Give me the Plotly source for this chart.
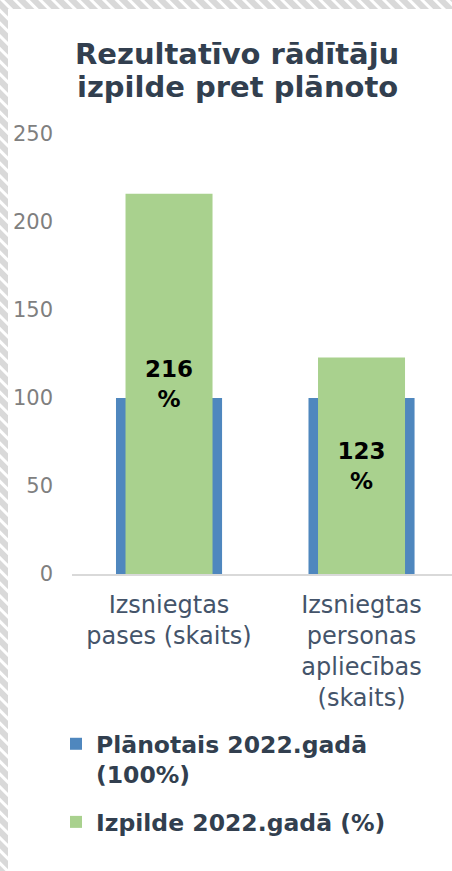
import base64
import plotly.graph_objects as go

# ---- data ----
categories = ["Izsniegtas<br>pases (skaits)", "Izsniegtas<br>personas<br>apliecības<br>(skaits)"]
planned = [100, 100]
actual = [216, 123]
series_names = ["Plānotais 2022.gadā<br>(100%)", "Izpilde 2022.gadā (%)"]
y_ticks = [0, 50, 100, 150, 200, 250]
title_lines = ["Rezultatīvo rādītāju", "izpilde pret plānoto"]

# ---- layout geometry ----
W, H = 452, 871
L, R, T, B = 72, 0, 134, 297
PW, PH = W - L - R, H - T - B

BLUE = "#4F87BE"
GREEN = "#A9D18E"
DARK = "#323F4F"
SLATE = "#44546A"
GRAY = "#7F7F7F"

fig = go.Figure()
fig.add_trace(go.Bar(
    x=categories, y=planned, name=series_names[0], width=0.551,
    marker=dict(color=BLUE, line=dict(width=0)), legendgroup="a",
))
fig.add_trace(go.Bar(
    x=categories, y=actual, name=series_names[1], width=0.452,
    marker=dict(color=GREEN, line=dict(width=0)), legendgroup="b",
    text=[f"{v}<br>%" for v in actual], textposition="inside",
    insidetextanchor="middle", textangle=0,
    textfont=dict(family="DejaVu Sans", size=23, color="black", weight="bold"),
))

# hatched frame (top and left bands) as an svg background image
svg = f'''<svg xmlns="http://www.w3.org/2000/svg" width="{W}" height="{H}">
<defs><pattern id="p" width="9" height="9" patternUnits="userSpaceOnUse" patternTransform="rotate(-45)">
<rect width="9" height="9" fill="#D9D9D9"/><rect width="3" height="9" fill="#FFFFFF"/></pattern></defs>
<rect x="0" y="0" width="{W}" height="9" fill="url(#p)"/>
<rect x="0" y="0" width="8" height="{H}" fill="url(#p)"/>
</svg>'''
src = "data:image/svg+xml;base64," + base64.b64encode(svg.encode()).decode()

def px(xp):
    return (xp - L) / PW

def py(yp):
    return (T + PH - yp) / PH

annotations = []
for line, yc in zip(title_lines, [54, 87]):
    annotations.append(dict(
        text=f"<b>{line}</b>", xref="paper", yref="paper", x=px(237), y=py(yc),
        xanchor="center", yanchor="middle", showarrow=False,
        font=dict(family="DejaVu Sans", size=29, color=DARK),
    ))

fig.update_layout(
    width=W, height=H,
    margin=dict(l=L, r=R, t=T, b=B, pad=0),
    paper_bgcolor="white", plot_bgcolor="rgba(0,0,0,0)",
    barmode="overlay",
    showlegend=True,
    legend=dict(
        orientation="v", x=px(56), y=py(722), xanchor="left", yanchor="top",
        traceorder="grouped", valign="top", tracegroupgap=14,
        font=dict(family="DejaVu Sans", size=23.5, color=DARK, weight="bold"),
        bgcolor="rgba(0,0,0,0)",
    ),
    xaxis=dict(
        range=[-0.504, 1.470], showline=True, linecolor="#D9D9D9", linewidth=2,
        showgrid=False, zeroline=False, ticks="", ticklabelstandoff=8,
        tickfont=dict(family="DejaVu Sans", size=24, color=SLATE),
    ),
    yaxis=dict(
        range=[0, 250], tickvals=y_ticks, showline=False, showgrid=False,
        zeroline=False, ticks="", ticklabelstandoff=18,
        tickfont=dict(family="DejaVu Sans", size=21, color=GRAY),
    ),
    images=[dict(
        source=src, xref="paper", yref="paper", x=-L / PW, y=1 + T / PH,
        sizex=W / PW, sizey=H / PH, xanchor="left", yanchor="top",
        sizing="stretch", layer="below",
    )],
    annotations=annotations,
)

fig.write_html("out.html", config={"displayModeBar": False})

# remove the browser's default page margin so the figure sits at (0, 0)
with open("out.html", encoding="utf-8") as f:
    html = f.read()
html = html.replace("<head>", "<head><style>html,body{margin:0;padding:0;overflow:hidden;}</style>", 1)
with open("out.html", "w", encoding="utf-8") as f:
    f.write(html)
